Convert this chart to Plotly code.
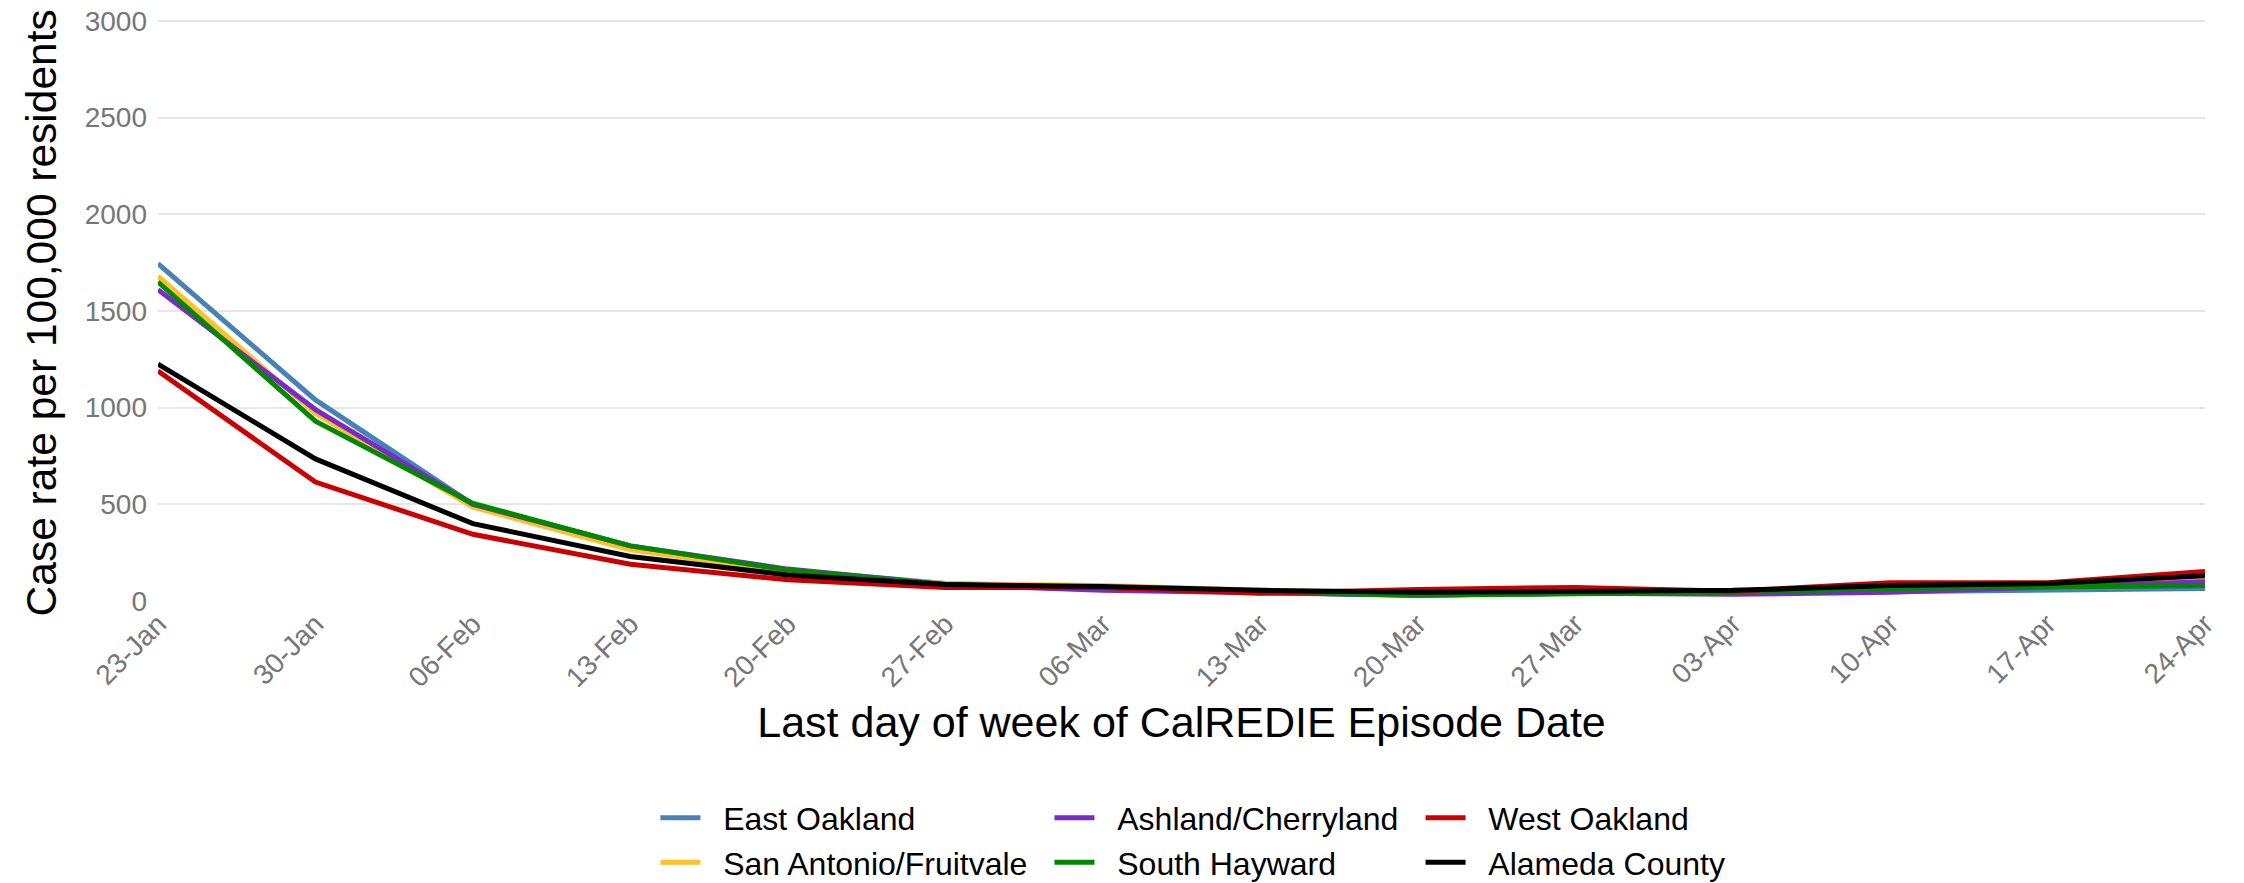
import plotly.graph_objects as go

dates = ["23-Jan", "30-Jan", "06-Feb", "13-Feb", "20-Feb", "27-Feb", "06-Mar",
         "13-Mar", "20-Mar", "27-Mar", "03-Apr", "10-Apr", "17-Apr", "24-Apr"]

east_oakland = [1745, 1040, 500, 280, 160, 90, 70, 45, 30, 40, 40, 50, 60, 65]
san_antonio_fruitvale = [1680, 970, 485, 265, 150, 90, 80, 55, 40, 45, 50, 70, 75, 110]
ashland_cherryland = [1610, 990, 500, 285, 165, 85, 55, 40, 30, 40, 35, 45, 70, 100]
south_hayward = [1650, 930, 505, 285, 160, 85, 70, 45, 30, 40, 45, 65, 75, 80]
west_oakland = [1190, 615, 345, 190, 110, 70, 70, 40, 60, 70, 50, 95, 95, 153]
alameda_county = [1225, 735, 400, 230, 135, 85, 75, 55, 45, 50, 55, 80, 90, 130]

y_title = "Case rate per 100,000 residents"
x_title = "Last day of week of CalREDIE Episode Date"

series = [
    ("East Oakland", east_oakland, "#4682B4", "legend"),
    ("San Antonio/Fruitvale", san_antonio_fruitvale, "#FFC125", "legend"),
    ("Ashland/Cherryland", ashland_cherryland, "#7B2AC9", "legend2"),
    ("South Hayward", south_hayward, "#008800", "legend2"),
    ("West Oakland", west_oakland, "#CC0000", "legend3"),
    ("Alameda County", alameda_county, "#000000", "legend3"),
]

NBSP = "\u00a0"

fig = go.Figure()
for name, vals, color, leg in series:
    fig.add_trace(go.Scatter(x=dates, y=vals, name=NBSP * 2 + name, mode="lines",
                             legend=leg, legendgroup=name,
                             line=dict(color=color, width=5)))

font_family = "Arial, Liberation Sans, sans-serif"
leg_common = dict(orientation="v", xanchor="left", yanchor="top", y=-0.325,
                  font=dict(size=32, color="#000000", family=font_family),
                  itemwidth=40, tracegroupgap=0, bgcolor="rgba(0,0,0,0)")

fig.update_layout(
    width=2244, height=883,
    margin=dict(l=150, r=47, t=10, b=290, autoexpand=False),
    paper_bgcolor="white", plot_bgcolor="white",
    font=dict(family=font_family, color="#000000"),
    showlegend=True,
    legend=dict(x=0.243, **leg_common),
    legend2=dict(x=0.4355, **leg_common),
    legend3=dict(x=0.6168, **leg_common),
    xaxis=dict(
        type="category", range=[0, 13], tickangle=-45,
        tickfont=dict(size=28, color="#767676"),
        showgrid=False, showline=False, zeroline=False, ticks="",
        title=dict(text=x_title,
                   font=dict(size=43, color="#000000"), standoff=15),
    ),
    yaxis=dict(
        range=[0, 3015.5], tickvals=[0, 500, 1000, 1500, 2000, 2500, 3000],
        tickfont=dict(size=28, color="#767676"), ticklabelstandoff=10,
        ticklabeloverflow="allow",
        showgrid=True, gridcolor="#E6E6E6", gridwidth=2,
        zeroline=False, showline=False, ticks="",
    ),
    annotations=[dict(
        text=y_title, textangle=-90, showarrow=False,
        xref="paper", yref="paper", x=-0.0567, y=0.4949,
        xanchor="center", yanchor="middle",
        font=dict(size=42.5, color="#000000", family=font_family),
    )],
)

fig.write_html("out.html")
